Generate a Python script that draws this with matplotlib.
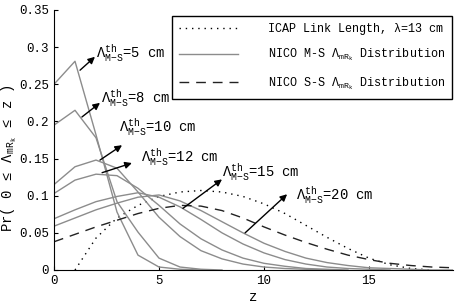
import numpy as np
import matplotlib
matplotlib.use("Agg")
import matplotlib.pyplot as plt

plt.rcParams['font.family'] = ['Liberation Mono', 'DejaVu Sans']
plt.rcParams['mathtext.fontset'] = 'custom'
plt.rcParams['mathtext.rm'] = 'Liberation Mono'
plt.rcParams['mathtext.it'] = 'Liberation Mono'

# NICO M-S distributions for each threshold (values at z = 0, 1, 2, ...)
thresholds = [5, 8, 10, 12, 15, 20]
ms_5 = [0.250, 0.281, 0.182, 0.078, 0.020, 0.004, 0.001, 0.0]
ms_8 = [0.195, 0.215, 0.178, 0.092, 0.051, 0.016, 0.004, 0.001, 0.0]
ms_10 = [0.115, 0.139, 0.148, 0.137, 0.105, 0.071, 0.045, 0.026, 0.015,
         0.008, 0.004, 0.002, 0.001, 0.0]
ms_12 = [0.103, 0.121, 0.129, 0.127, 0.110, 0.087, 0.062, 0.042, 0.027,
         0.016, 0.009, 0.005, 0.002, 0.001, 0.0]
ms_15 = [0.069, 0.081, 0.092, 0.099, 0.104, 0.098, 0.085, 0.068, 0.050,
         0.035, 0.023, 0.014, 0.008, 0.004, 0.002, 0.001, 0.0]
ms_20 = [0.059, 0.070, 0.081, 0.090, 0.098, 0.101, 0.093, 0.080, 0.065,
         0.050, 0.036, 0.025, 0.016, 0.010, 0.006, 0.003, 0.002, 0.001, 0.0, 0.0]
ms_all = [ms_5, ms_8, ms_10, ms_12, ms_15, ms_20]

# ICAP link length (lambda = 13 cm), z = 1 .. 18
icap_z = list(range(1, 19))
icap = [0.0, 0.043, 0.070, 0.087, 0.099, 0.105, 0.107, 0.105, 0.099,
        0.089, 0.076, 0.060, 0.044, 0.029, 0.016, 0.007, 0.002, 0.0]

# NICO S-S distribution, z = 0 .. 19
ss_z = list(range(0, 20))
ss = [0.038, 0.048, 0.058, 0.067, 0.076, 0.083, 0.087, 0.086, 0.080,
      0.070, 0.058, 0.047, 0.037, 0.028, 0.020, 0.014, 0.009, 0.006, 0.004, 0.003]

# label anchors: (arrow tail, arrow tip, text position)
ann = [((1.24, 0.269), (1.95, 0.287), (2.0, 0.292)),
       ((1.33, 0.206), (2.19, 0.225), (2.25, 0.232)),
       ((2.19, 0.148), (3.24, 0.168), (3.1, 0.192)),
       ((2.29, 0.131), (3.71, 0.144), (4.15, 0.152)),
       ((6.14, 0.083), (8.0, 0.122), (8.0, 0.132)),
       ((9.1, 0.050), (11.1, 0.102), (11.5, 0.101))]

fig = plt.figure(figsize=(4.63, 3.06), dpi=100)
ax = fig.add_axes([54/463, 36/306, 399/463, 260/306])

grey = '#8c8c8c'
ax.plot(icap_z, icap, color='black', linestyle=(0, (1, 3.5)), linewidth=1,
        label='ICAP Link Length, \u03bb=13 cm')
for i, vals in enumerate(ms_all):
    ax.plot(range(len(vals)), vals, color=grey, linewidth=1,
            label=r'NICO M-S $\Lambda_{\mathrm{mR}_{k}}$ Distribution' if i == 0 else None)
ax.plot(ss_z, ss, color='#222222', linestyle=(0, (7, 5)), linewidth=1,
        label=r'NICO S-S $\Lambda_{\mathrm{mR}_{k}}$ Distribution')

for th, (tail, tip, txt) in zip(thresholds, ann):
    ax.annotate('', xy=tip, xytext=tail,
                arrowprops=dict(arrowstyle='-|>', color='black', lw=1,
                                mutation_scale=10, shrinkA=0, shrinkB=0))
    ax.text(txt[0], txt[1], r'$\Lambda^{\mathrm{th}}_{\mathrm{M{-}S}}$=%d cm' % th,
            fontsize=10, va='center', ha='left')

ax.set_xlim(0, 19)
ax.set_ylim(0, 0.35)
ax.set_xticks([0, 5, 10, 15])
ax.set_yticks([0, 0.05, 0.1, 0.15, 0.2, 0.25, 0.3, 0.35])
ax.set_yticklabels(['0', '0.05', '0.1', '0.15', '0.2', '0.25', '0.3', '0.35'])
ax.tick_params(direction='in', labelsize=9, length=3)
ax.spines['top'].set_visible(False)
ax.spines['right'].set_visible(False)
ax.set_xlabel('z', fontsize=10, labelpad=2)
ax.set_ylabel(r'Pr( 0 $\leq$ $\Lambda_{\mathrm{mR}_{k}}$ $\leq$ z )', fontsize=10)
ax.yaxis.set_label_coords(-0.088, 0.43)

leg = ax.legend(loc='upper right', bbox_to_anchor=(1.013, 1.0), fontsize=8.5,
                frameon=True, fancybox=False, edgecolor='black', framealpha=1,
                handlelength=5, borderpad=0.6, labelspacing=1.0, handletextpad=2.5)
leg.get_frame().set_linewidth(1)

fig.savefig('out.png', dpi=100)
